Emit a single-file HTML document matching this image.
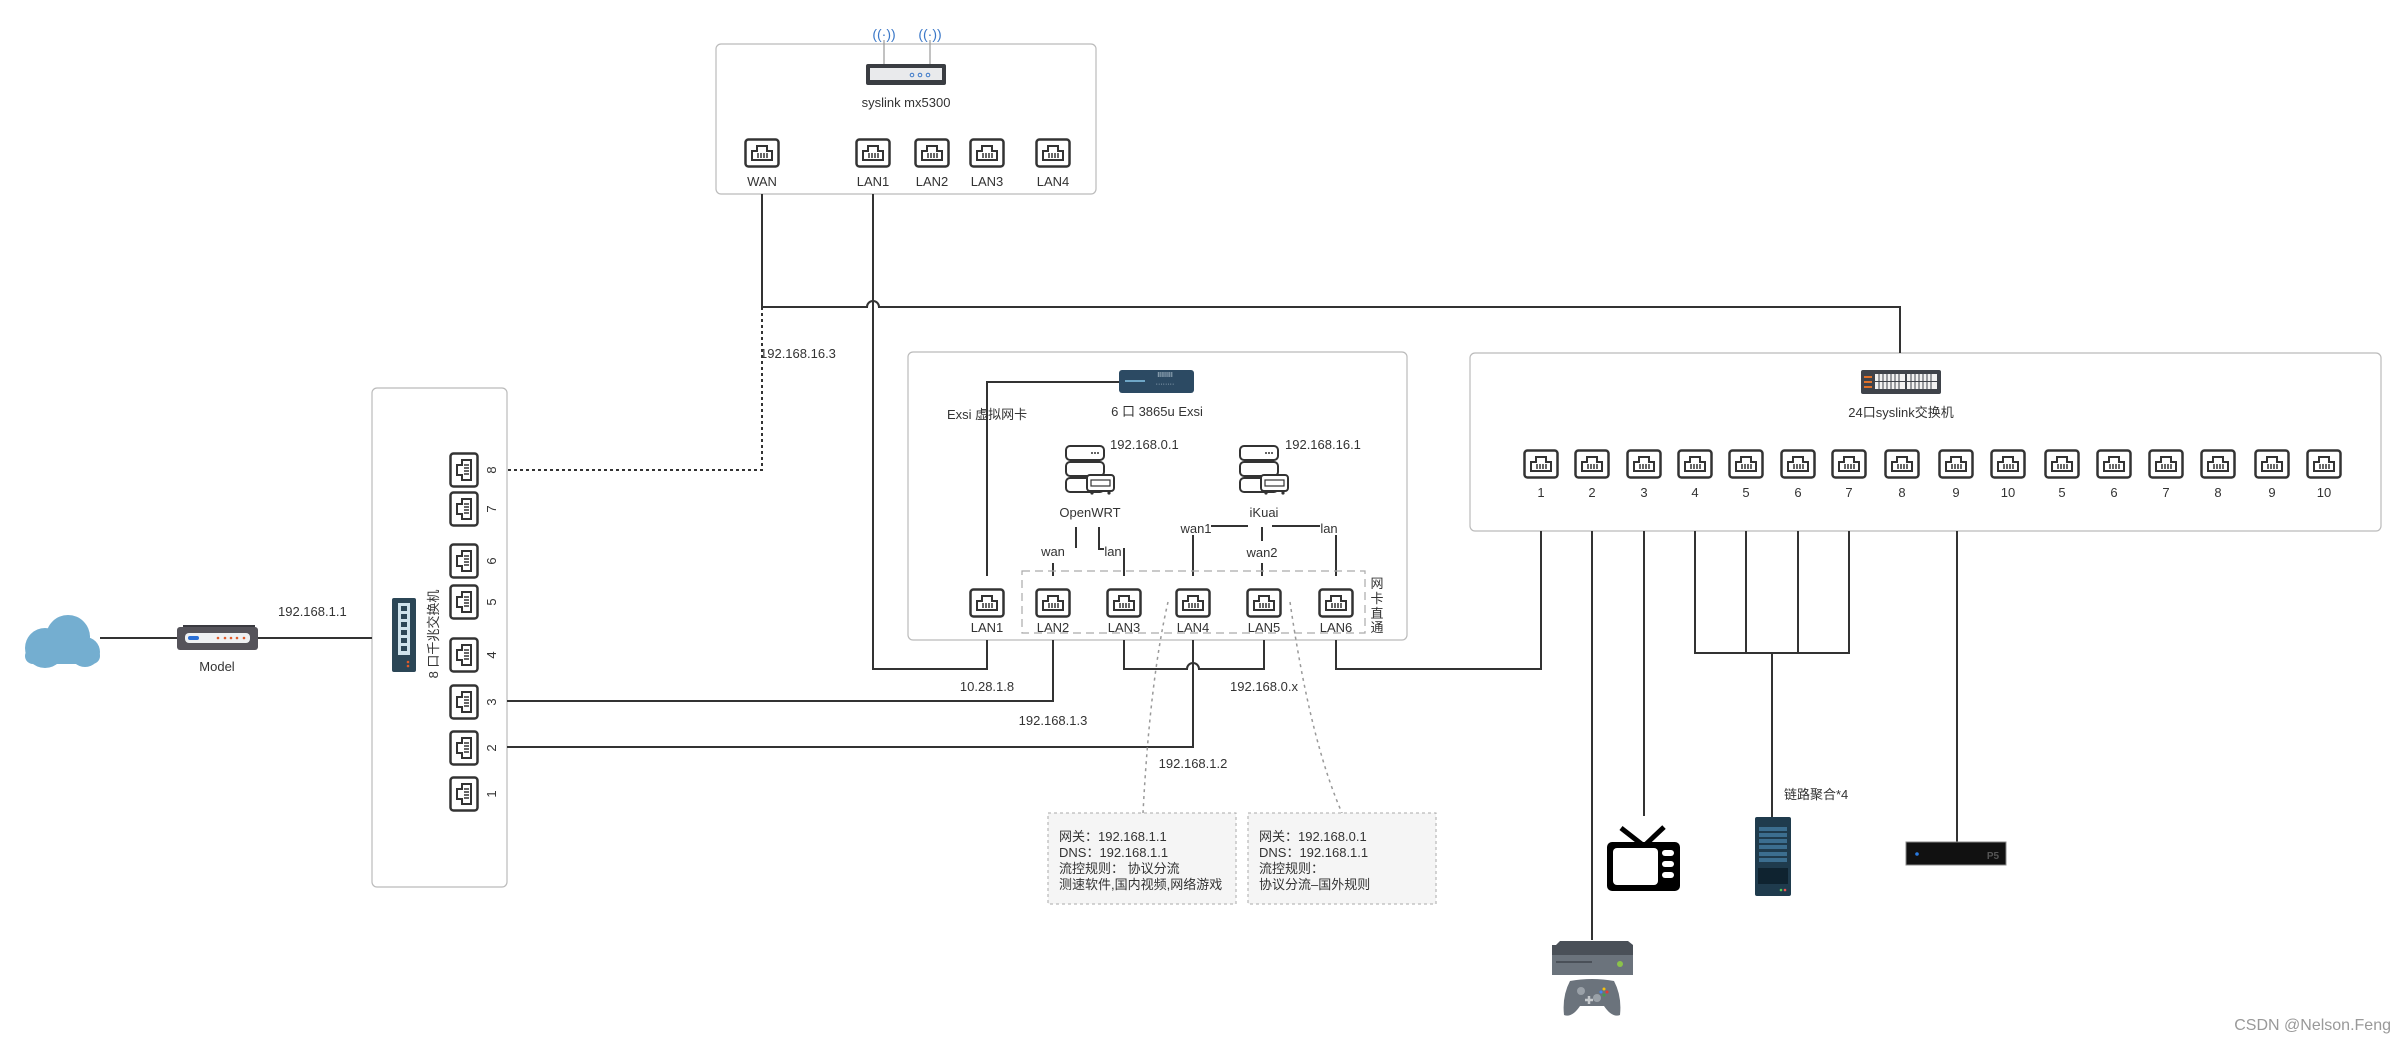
<!DOCTYPE html>
<html><head><meta charset="utf-8"><style>
html,body{margin:0;padding:0;background:#fff;}
svg{display:block;}
text{font-family:"Liberation Sans","Noto Sans CJK SC",sans-serif;fill:#333;font-size:13px;}
</style></head><body>
<svg width="2406" height="1047" viewBox="0 0 2406 1047" xmlns="http://www.w3.org/2000/svg">
<defs>
<g id="port">
<rect x="1.5" y="1.5" width="33" height="27" rx="3" fill="#fff" stroke="#333" stroke-width="2.5"/>
<path d="M8 22 V13 H13 V8 H23 V13 H28 V22 Z" fill="none" stroke="#333" stroke-width="2"/>
<path d="M14 15 V20 M17 15 V20 M20 15 V20 M23 15 V20" stroke="#333" stroke-width="1.5"/>
</g>
<g id="srv">
<rect x="1" y="1" width="38" height="14" rx="4" fill="#fff" stroke="#333" stroke-width="2"/>
<rect x="1" y="17" width="38" height="14" rx="4" fill="#fff" stroke="#333" stroke-width="2"/>
<rect x="1" y="33" width="38" height="14" rx="4" fill="#fff" stroke="#333" stroke-width="2"/>
<circle cx="30" cy="8" r="1" fill="#333"/><circle cx="33" cy="8" r="1" fill="#333"/><circle cx="27" cy="8" r="1" fill="#333"/>
<rect x="22" y="30" width="27" height="16" rx="3" fill="#fff" stroke="#333" stroke-width="2"/>
<rect x="26" y="35" width="19" height="6" fill="none" stroke="#333" stroke-width="1.2"/>
<circle cx="27" cy="48" r="1.6" fill="#333"/><circle cx="44" cy="48" r="1.6" fill="#333"/>
</g>
</defs>

<rect x="716" y="44" width="380" height="150" rx="5" fill="#fff" stroke="#bbb" stroke-width="1.2"/>
<rect x="908" y="352" width="499" height="288" rx="5" fill="#fff" stroke="#bbb" stroke-width="1.2"/>
<rect x="372" y="388" width="135" height="499" rx="5" fill="#fff" stroke="#bbb" stroke-width="1.2"/>
<rect x="1470" y="353" width="911" height="178" rx="5" fill="#fff" stroke="#bbb" stroke-width="1.2"/>

<path d="M884 40 V66 M930 40 V66" stroke="#999" stroke-width="1.2"/>
<text x="884" y="39" text-anchor="middle" style="fill:#3b78c8;font-size:14px">((·))</text>
<text x="930" y="39" text-anchor="middle" style="fill:#3b78c8;font-size:14px">((·))</text>
<rect x="866" y="64" width="80" height="21" rx="2" fill="#3a3d42"/>
<rect x="870" y="68" width="72" height="12" fill="#e9eaec"/>
<circle cx="912" cy="75" r="1.8" fill="none" stroke="#3b78c8"/><circle cx="920" cy="75" r="1.8" fill="none" stroke="#3b78c8"/><circle cx="928" cy="75" r="1.8" fill="none" stroke="#3b78c8"/>
<text x="906" y="107" text-anchor="middle">syslink mx5300</text>
<use href="#port" x="744" y="138"/><use href="#port" x="855" y="138"/><use href="#port" x="914" y="138"/><use href="#port" x="969" y="138"/><use href="#port" x="1035" y="138"/>
<text x="762" y="186" text-anchor="middle">WAN</text><text x="873" y="186" text-anchor="middle">LAN1</text><text x="932" y="186" text-anchor="middle">LAN2</text><text x="987" y="186" text-anchor="middle">LAN3</text><text x="1053" y="186" text-anchor="middle">LAN4</text>

<g fill="none" stroke="#333" stroke-width="2">
<path d="M762 194 V307 H867 A6 6 0 0 1 879 307 H1900 V353"/>
<path d="M873 194 V669 H987 V640"/>
<path d="M762 307 V470 H507" stroke-dasharray="3,3"/>
</g>
<text x="760" y="358">192.168.16.3</text>

<g fill="#74aed0"><circle cx="45" cy="648" r="20"/><circle cx="68" cy="637" r="22"/><circle cx="85" cy="652" r="15"/><rect x="25" y="648" width="75" height="16" rx="8"/></g>
<path d="M100 638 H177 M258 638 H372" stroke="#333" stroke-width="2"/>
<rect x="183" y="625" width="72" height="4" fill="#3a3a40"/>
<rect x="177" y="627" width="81" height="23" rx="3" fill="#55535a"/>
<rect x="185" y="633" width="65" height="10" rx="4" fill="#eef0f2"/>
<rect x="188" y="636" width="11" height="4" rx="2" fill="#2a6fd6"/>
<g fill="#e05a2a"><circle cx="218" cy="638" r="1.3"/><circle cx="225" cy="638" r="1.3"/><circle cx="231" cy="638" r="1.3"/><circle cx="237" cy="638" r="1.3"/><circle cx="244" cy="638" r="1.3"/></g>
<text x="217" y="671" text-anchor="middle">Model</text>
<text x="278" y="616">192.168.1.1</text>

<rect x="392" y="598" width="24" height="74" rx="2" fill="#2b4656"/>
<rect x="398" y="603" width="12" height="52" fill="#cfe3ec"/>
<g fill="#2b4656"><rect x="401" y="606" width="6" height="5"/><rect x="401" y="614" width="6" height="5"/><rect x="401" y="622" width="6" height="5"/><rect x="401" y="630" width="6" height="5"/><rect x="401" y="638" width="6" height="5"/><rect x="401" y="646" width="6" height="5"/></g>
<circle cx="408" cy="662" r="1.3" fill="#e05a2a"/><circle cx="408" cy="666" r="1.3" fill="#e05a2a"/>
<text transform="translate(438,634) rotate(-90)" text-anchor="middle">8 口千兆交换机</text>
<g>
<use href="#port" transform="translate(449,488) rotate(-90)"/>
<use href="#port" transform="translate(449,527) rotate(-90)"/>
<use href="#port" transform="translate(449,579) rotate(-90)"/>
<use href="#port" transform="translate(449,620) rotate(-90)"/>
<use href="#port" transform="translate(449,673) rotate(-90)"/>
<use href="#port" transform="translate(449,720) rotate(-90)"/>
<use href="#port" transform="translate(449,766) rotate(-90)"/>
<use href="#port" transform="translate(449,812) rotate(-90)"/>
</g>
<g text-anchor="middle">
<text transform="translate(496,470) rotate(-90)">8</text><text transform="translate(496,509) rotate(-90)">7</text><text transform="translate(496,561) rotate(-90)">6</text><text transform="translate(496,602) rotate(-90)">5</text><text transform="translate(496,655) rotate(-90)">4</text><text transform="translate(496,702) rotate(-90)">3</text><text transform="translate(496,748) rotate(-90)">2</text><text transform="translate(496,794) rotate(-90)">1</text>
</g>

<rect x="1119" y="370" width="75" height="23" rx="3" fill="#2c4a63"/>
<rect x="1125" y="380" width="20" height="2" fill="#6fa6c6"/>
<text x="1165" y="377" text-anchor="middle" style="fill:#c9d9e4;font-size:7px">IIIIIIII</text>
<text x="1165" y="386" text-anchor="middle" style="fill:#c9d9e4;font-size:7px">········</text>
<path d="M1119 382 H987 V576" fill="none" stroke="#333" stroke-width="2"/>
<text x="947" y="419">Exsi 虚拟网卡</text>
<text x="1157" y="416" text-anchor="middle">6 口 3865u Exsi</text>
<use href="#srv" x="1065" y="445"/><use href="#srv" x="1239" y="445"/>
<text x="1110" y="449">192.168.0.1</text><text x="1285" y="449">192.168.16.1</text>
<text x="1090" y="517" text-anchor="middle">OpenWRT</text><text x="1264" y="517" text-anchor="middle">iKuai</text>
<g fill="none" stroke="#333" stroke-width="2">
<path d="M1076 527 V548"/><path d="M1053 563 V576"/>
<path d="M1099 527 V549 H1104"/><path d="M1124 548 V576"/>
<path d="M1211 526 H1248"/><path d="M1193 535 V576"/>
<path d="M1262 527 V541"/><path d="M1262 563 V576"/>
<path d="M1272 526 H1320"/><path d="M1336 535 V576"/>
</g>
<text x="1053" y="556" text-anchor="middle">wan</text><text x="1113" y="556" text-anchor="middle">lan</text>
<text x="1196" y="533" text-anchor="middle">wan1</text><text x="1262" y="557" text-anchor="middle">wan2</text><text x="1329" y="533" text-anchor="middle">lan</text>
<rect x="1022" y="571" width="343" height="62" fill="none" stroke="#aaa" stroke-width="1.2" stroke-dasharray="8,5"/>
<text x="1377" y="588" text-anchor="middle">网</text><text x="1377" y="603" text-anchor="middle">卡</text><text x="1377" y="618" text-anchor="middle">直</text><text x="1377" y="632" text-anchor="middle">通</text>
<use href="#port" x="969" y="588"/><use href="#port" x="1035" y="588"/><use href="#port" x="1106" y="588"/><use href="#port" x="1175" y="588"/><use href="#port" x="1246" y="588"/><use href="#port" x="1318" y="588"/>
<text x="987" y="632" text-anchor="middle">LAN1</text><text x="1053" y="632" text-anchor="middle">LAN2</text><text x="1124" y="632" text-anchor="middle">LAN3</text><text x="1193" y="632" text-anchor="middle">LAN4</text><text x="1264" y="632" text-anchor="middle">LAN5</text><text x="1336" y="632" text-anchor="middle">LAN6</text>

<g fill="none" stroke="#333" stroke-width="2">
<path d="M1053 640 V701 H507"/>
<path d="M1124 640 V669 H1187 A6 6 0 0 1 1199 669 H1264 V640"/>
<path d="M1193 640 V747 H507"/>
<path d="M1336 640 V669 H1541 V531"/>
</g>
<text x="987" y="691" text-anchor="middle">10.28.1.8</text>
<text x="1053" y="725" text-anchor="middle">192.168.1.3</text>
<text x="1264" y="691" text-anchor="middle">192.168.0.x</text>
<text x="1193" y="768" text-anchor="middle">192.168.1.2</text>

<path d="M1168 602 Q1150 680 1143 813" fill="none" stroke="#999" stroke-width="1.5" stroke-dasharray="3,4"/>
<path d="M1290 602 Q1310 740 1342 813" fill="none" stroke="#999" stroke-width="1.5" stroke-dasharray="3,4"/>
<rect x="1048" y="813" width="188" height="91" fill="#f5f5f5" stroke="#aaa" stroke-dasharray="3,3"/>
<rect x="1248" y="813" width="188" height="91" fill="#f5f5f5" stroke="#aaa" stroke-dasharray="3,3"/>
<text x="1059" y="841">网关：192.168.1.1</text><text x="1059" y="857">DNS：192.168.1.1</text><text x="1059" y="873">流控规则： 协议分流</text><text x="1059" y="889">测速软件,国内视频,网络游戏</text>
<text x="1259" y="841">网关：192.168.0.1</text><text x="1259" y="857">DNS：192.168.1.1</text><text x="1259" y="873">流控规则：</text><text x="1259" y="889">协议分流–国外规则</text>

<rect x="1861" y="370" width="80" height="24" rx="2" fill="#3f434a"/>
<rect x="1875" y="374" width="30" height="15" fill="#f2f2f2"/><rect x="1907" y="374" width="30" height="15" fill="#f2f2f2"/>
<g stroke="#3f434a" stroke-width="1"><path d="M1875 381.5 H1937 M1879 374 V389 M1883 374 V389 M1887 374 V389 M1891 374 V389 M1895 374 V389 M1899 374 V389 M1911 374 V389 M1915 374 V389 M1919 374 V389 M1923 374 V389 M1927 374 V389 M1931 374 V389"/></g>
<g fill="#e0712a"><rect x="1864" y="376" width="8" height="2"/><rect x="1864" y="381" width="8" height="2"/><rect x="1864" y="386" width="8" height="2"/></g>
<text x="1901" y="417" text-anchor="middle">24口syslink交换机</text>
<g>
<use href="#port" x="1523" y="449"/><use href="#port" x="1574" y="449"/><use href="#port" x="1626" y="449"/><use href="#port" x="1677" y="449"/><use href="#port" x="1728" y="449"/><use href="#port" x="1780" y="449"/><use href="#port" x="1831" y="449"/><use href="#port" x="1884" y="449"/><use href="#port" x="1938" y="449"/><use href="#port" x="1990" y="449"/><use href="#port" x="2044" y="449"/><use href="#port" x="2096" y="449"/><use href="#port" x="2148" y="449"/><use href="#port" x="2200" y="449"/><use href="#port" x="2254" y="449"/><use href="#port" x="2306" y="449"/>
</g>
<g text-anchor="middle">
<text x="1541" y="497">1</text><text x="1592" y="497">2</text><text x="1644" y="497">3</text><text x="1695" y="497">4</text><text x="1746" y="497">5</text><text x="1798" y="497">6</text><text x="1849" y="497">7</text><text x="1902" y="497">8</text><text x="1956" y="497">9</text><text x="2008" y="497">10</text><text x="2062" y="497">5</text><text x="2114" y="497">6</text><text x="2166" y="497">7</text><text x="2218" y="497">8</text><text x="2272" y="497">9</text><text x="2324" y="497">10</text>
</g>
<g fill="none" stroke="#333" stroke-width="2">
<path d="M1592 531 V940"/><path d="M1644 531 V816"/>
<path d="M1695 531 V653 H1849 V531 M1746 531 V653 M1798 531 V653 M1772 653 V817"/>
<path d="M1957 531 V842"/>
</g>
<text x="1784" y="799">链路聚合*4</text>

<path d="M1621 828 L1644 846 L1664 827" fill="none" stroke="#000" stroke-width="5"/>
<rect x="1607" y="842" width="73" height="49" rx="5" fill="#000"/>
<rect x="1613" y="848" width="45" height="37" rx="4" fill="#fff"/>
<g fill="#fff"><rect x="1662" y="850" width="12" height="6" rx="3"/><rect x="1662" y="861" width="12" height="6" rx="3"/><rect x="1662" y="872" width="12" height="6" rx="3"/></g>
<rect x="1755" y="817" width="36" height="79" rx="2" fill="#1f3b4d"/>
<g fill="#3c6e8f"><rect x="1759" y="827" width="28" height="4"/><rect x="1759" y="833" width="28" height="4"/><rect x="1759" y="839" width="28" height="4"/><rect x="1759" y="845" width="28" height="4"/><rect x="1759" y="852" width="28" height="4"/><rect x="1759" y="858" width="28" height="4"/></g>
<rect x="1758" y="868" width="30" height="16" fill="#0f2330"/>
<circle cx="1781" cy="890" r="1.3" fill="#5c5"/><circle cx="1785" cy="890" r="1.3" fill="#e55"/>
<rect x="1906" y="842" width="100" height="23" fill="#111" stroke="#888" stroke-width="1"/>
<circle cx="1917" cy="854" r="1.8" fill="#2a7ae0"/>
<text x="1993" y="859" text-anchor="middle" style="fill:#555;font-size:10px;font-weight:bold">P5</text>
<path d="M1556 945 L1560 941 H1628 L1633 945 V963 H1552 V945 Z" fill="#4a5058"/>
<rect x="1552" y="955" width="81" height="20" fill="#6b737c"/>
<rect x="1556" y="961" width="36" height="2" fill="#4a5058"/>
<circle cx="1620" cy="964" r="3" fill="#8bc34a"/>
<path d="M1570 981 Q1592 977 1614 981 Q1622 996 1620 1015 Q1612 1018 1604 1006 H1580 Q1572 1018 1564 1015 Q1562 996 1570 981 Z" fill="#6b737c"/>
<circle cx="1581" cy="991" r="4" fill="#9aa1a8"/><circle cx="1597" cy="998" r="4" fill="#9aa1a8"/>
<path d="M1585 1000 H1593 M1589 996 V1004" stroke="#c6cacd" stroke-width="2.5"/>
<circle cx="1604" cy="989" r="1.5" fill="#f4c20d"/><circle cx="1601" cy="992" r="1.5" fill="#4285f4"/><circle cx="1607" cy="992" r="1.5" fill="#e53935"/><circle cx="1604" cy="995" r="1.5" fill="#43a047"/>

<text x="2391" y="1030" text-anchor="end" style="fill:#999;font-size:16px">CSDN @Nelson.Feng</text>
</svg>
</body></html>
